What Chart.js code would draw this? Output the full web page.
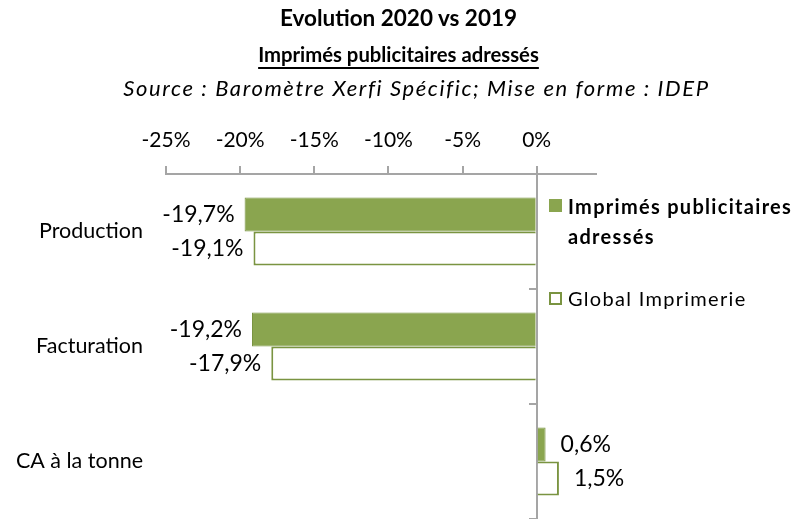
<!DOCTYPE html>
<html>
<head>
<meta charset="utf-8">
<script src="https://cdn.jsdelivr.net/npm/chart.js@4"></script>
<style>
  body { margin: 0; background: #fff; }
  #wrap { position: relative; width: 797px; height: 519px; font-family: Lato, sans-serif; color: #000; }
  #myChart { position: absolute; left: 0; top: 0; }
  .t { position: absolute; left: 0; width: 797px; text-align: center; white-space: nowrap; }
  #t1 { top: 4px; font-weight: bold; font-size: 22.5px; }
  #t2 { top: 42px; font-weight: bold; font-size: 20.3px; }
  #t2 span { text-decoration: underline; text-underline-offset: 5px; }
  #t3 { top: 74px; font-style: italic; font-size: 22px; letter-spacing: 1.6px; left: 18px; }
  .leg { position: absolute; left: 549px; font-size: 20px; letter-spacing: 1.3px; white-space: nowrap; }
  .box { position: absolute; left: 0; width: 13px; height: 13px; box-sizing: border-box; }
  .leg .txt { position: absolute; left: 19px; }
</style>
</head>
<body>
<div id="wrap">
  <canvas id="myChart" width="797" height="519"></canvas>
  <div class="t" id="t1">Evolution 2020 vs 2019</div>
  <div class="t" id="t2"><span>Imprimés publicitaires adressés</span></div>
  <div class="t" id="t3">Source : Baromètre Xerfi Spécific; Mise en forme : IDEP</div>
  <div class="leg" style="top:199px">
    <div class="box" style="background:#8AA54F"></div>
    <div class="txt" style="top:-8px;font-weight:bold;line-height:30px">Imprimés publicitaires<br>adressés</div>
  </div>
  <div class="leg" style="top:292px">
    <div class="box" style="border:2px solid #7A9441;background:#fff"></div>
    <div class="txt" style="top:-6px;line-height:24px">Global Imprimerie</div>
  </div>
</div>
<script>
const categories = ["Production", "Facturation", "CA à la tonne"];
const seriesNames = ["Imprimés publicitaires adressés", "Global Imprimerie"];
const imprimesValues = [-19.7, -19.2, 0.6];
const globalValues = [-19.1, -17.9, 1.5];

const axisGray = "#A5A5A5";

function fmt(v) {
  return v.toFixed(1).replace(".", ",") + "%";
}

// etiquettes de valeur au bout des barres
const valueLabels = {
  id: "valueLabels",
  afterDatasetsDraw(chart) {
    const ctx = chart.ctx;
    ctx.save();
    ctx.font = "23px Lato";
    ctx.fillStyle = "#000";
    ctx.textBaseline = "middle";
    chart.data.datasets.forEach((ds, i) => {
      chart.getDatasetMeta(i).data.forEach((bar, j) => {
        const v = ds.data[j];
        if (v < 0) {
          ctx.textAlign = "right";
          ctx.fillText(fmt(v), bar.x - 10, bar.y);
        } else {
          ctx.textAlign = "left";
          ctx.fillText(fmt(v), bar.x + 15, bar.y);
        }
      });
    });
    ctx.restore();
  },
};

const myChart = new Chart(document.getElementById("myChart"), {
  type: "bar",
  data: {
    labels: categories,
    datasets: [
      {
        label: seriesNames[0],
        data: imprimesValues,
        backgroundColor: "#8AA54F",
        borderColor: "#7A9441",
        borderWidth: 1,
      },
      {
        label: seriesNames[1],
        data: globalValues,
        backgroundColor: "#ffffff",
        borderColor: "#7A9441",
        borderWidth: 2,
      },
    ],
  },
  options: {
    responsive: false,
    animation: false,
    indexAxis: "y",
    categoryPercentage: 0.59,
    barPercentage: 1.0,
    layout: { padding: { top: 120, right: 201, left: 0, bottom: 0 } },
    plugins: {
      legend: { display: false },
      tooltip: { enabled: false },
    },
    scales: {
      x: {
        position: "top",
        min: -25,
        max: 4,
        ticks: {
          stepSize: 5,
          includeBounds: false,
          padding: 13,
          color: "#000",
          font: { family: "Lato", size: 21 },
          callback: (v) => v + "%",
        },
        grid: {
          drawOnChartArea: false,
          drawTicks: true,
          tickLength: 8,
          color: axisGray,
          lineWidth: 2,
        },
        border: { color: axisGray, width: 2 },
        afterFit: (s) => { s.height = 54; },
      },
      y: {
        position: "left",
        grid: { display: false, drawTicks: false },
        border: { display: false },
        ticks: {
          padding: 23,
          color: "#000",
          font: { family: "Lato", size: 21.5 },
        },
        afterFit: (s) => {
          s.width = 166;
          s.paddingTop = 0;
          s.paddingBottom = 0;
        },
      },
      y2: {
        type: "category",
        axis: "y",
        labels: categories,
        position: { x: 0 },
        offset: true,
        ticks: { display: false },
        grid: {
          offset: true,
          drawOnChartArea: false,
          tickLength: 7,
          color: axisGray,
          lineWidth: 2,
        },
        border: { color: axisGray, width: 2 },
        afterFit: (s) => {
          s.width = 0;
          s.paddingTop = 0;
          s.paddingBottom = 0;
        },
      },
    },
  },
  plugins: [valueLabels],
});
</script>
</body>
</html>
